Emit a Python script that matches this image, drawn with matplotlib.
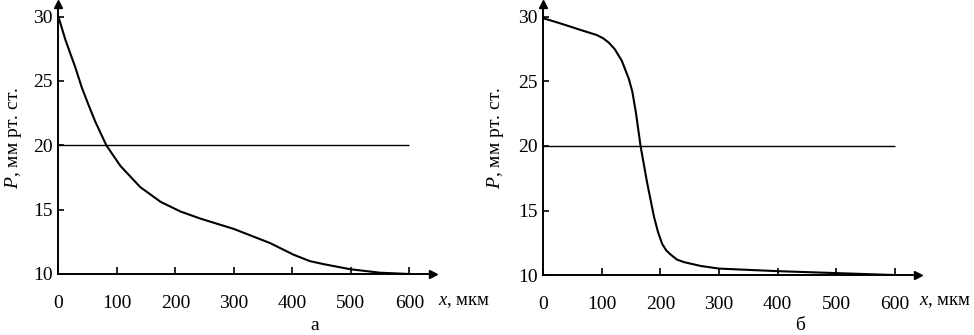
import matplotlib
matplotlib.use("Agg")
import matplotlib.pyplot as plt

plt.rcParams['font.family'] = ['Liberation Serif', 'DejaVu Serif']
plt.rcParams['mathtext.fontset'] = 'custom'
plt.rcParams['mathtext.it'] = 'Liberation Serif:italic'
plt.rcParams['mathtext.rm'] = 'Liberation Serif'

# panel a
xa = [0, 12, 29, 40, 51, 63, 82, 106, 140, 175, 209, 243, 300, 362, 402, 430, 453, 499, 550, 600]
ya = [30, 28.2, 26.05, 24.5, 23.2, 21.85, 20, 18.4, 16.75, 15.6, 14.85, 14.3, 13.5, 12.4, 11.5, 11.0, 10.77, 10.37, 10.1, 10.0]
# panel b
xb = [0, 29, 63, 91, 102, 112, 122, 134, 146, 152, 158, 166, 177, 189, 196, 203, 210, 217, 228, 240, 269, 300, 400, 500, 600]
yb = [29.9, 29.5, 29.0, 28.6, 28.35, 28.0, 27.5, 26.6, 25.2, 24.2, 22.6, 20.0, 17.2, 14.5, 13.3, 12.4, 11.9, 11.6, 11.2, 11.0, 10.7, 10.5, 10.3, 10.15, 10.0]

level = 20
xticks = [0, 100, 200, 300, 400, 500, 600]
yticks = [10, 15, 20, 25, 30]

fig = plt.figure(figsize=(9.74, 3.35), dpi=100)
ax1 = fig.add_axes([0.0599, 0.1821, 0.3844, 0.807])
ax2 = fig.add_axes([0.5578, 0.179, 0.385, 0.809])

for ax, x, y in [(ax1, xa, ya), (ax2, xb, yb)]:
    ax.plot(x, y, color='black', lw=1.5)
    ax.hlines(level, 0, 600, color='black', lw=1.0)
    ax.set_xlim(0, 640)
    ax.set_ylim(10, 31)
    ax.set_xticks(xticks)
    ax.set_yticks(yticks)
    ax.spines['top'].set_visible(False)
    ax.spines['right'].set_visible(False)
    ax.spines['left'].set_linewidth(1.4)
    ax.spines['bottom'].set_linewidth(1.4)
    ax.tick_params(axis='x', direction='in', length=5, width=1.2, pad=15, labelsize=14)
    ax.tick_params(axis='y', direction='in', length=4, width=1.2, pad=4, labelsize=14)
    # arrow heads
    ax.plot(1, 0, '>', color='black', ms=6, transform=ax.transAxes, clip_on=False)
    ax.plot(0, 1, '^', color='black', ms=6, transform=ax.transAxes, clip_on=False)

fig.text(438 / 974, 1 - 302 / 335, r'$x$, мкм', fontsize=13.5, ha='left', va='center')
fig.text(919 / 974, 1 - 302 / 335, r'$x$, мкм', fontsize=13.5, ha='left', va='center')
fig.text(14 / 974, 1 - 138 / 335, r'$P$, мм рт. ст.', fontsize=14, rotation=90, ha='center', va='center')
fig.text(495 / 974, 1 - 138 / 335, r'$P$, мм рт. ст.', fontsize=14, rotation=90, ha='center', va='center')
fig.text(315 / 974, 1 - 325 / 335, 'а', fontsize=14, ha='center', va='center')
fig.text(800 / 974, 1 - 325 / 335, 'б', fontsize=14, ha='center', va='center')

plt.savefig('out.png', dpi=100)
